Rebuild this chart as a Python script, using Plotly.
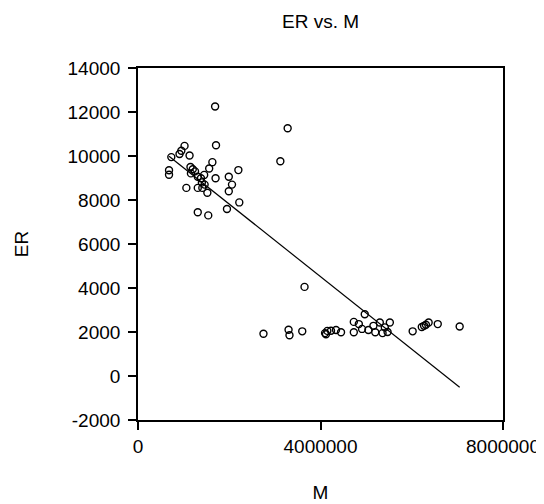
import plotly.graph_objects as go

M = [
    680000, 680000, 730000, 910000, 950000, 1020000, 1130000, 1150000, 1160000,
    1200000, 1250000, 1310000, 1380000, 1450000, 1460000, 1410000, 1400000,
    1560000, 1630000, 1700000, 1520000, 1060000, 1310000, 1990000, 2200000,
    2060000, 1990000, 2220000, 1950000, 1310000, 1540000, 1710000, 1690000,
    3120000, 3280000, 3650000,
    2750000, 3300000, 3320000, 3600000, 4100000, 4150000, 4120000, 4230000,
    4340000, 4450000, 4730000, 4730000, 4840000, 4910000, 4970000, 5050000,
    5160000, 5200000, 5300000, 5360000, 5410000, 5520000, 5470000, 6020000,
    6220000, 6270000, 6310000, 6370000, 6570000, 7050000,
]
ER = [
    9350, 9150, 9950, 10090, 10240, 10460, 10020, 9500, 9210,
    9400, 9300, 9060, 8990, 9140, 8700, 8550, 8800,
    9430, 9720, 8990, 8330, 8550, 8550, 9060, 9360,
    8700, 8400, 7890, 7590, 7440, 7300, 10490, 12250,
    9760, 11260, 4050,
    1920, 2100, 1850, 2030, 1950, 2050, 1900, 2060,
    2090, 1990, 2460, 1990, 2360, 2140, 2810, 2090,
    2280, 1990, 2430, 1950, 2210, 2430, 2000, 2030,
    2230, 2280, 2330, 2430, 2360, 2250,
]

# Fitted line (ER = intercept + slope * M)
fit_intercept = 11109
fit_slope = -0.001648

x_ticks = [0, 4000000, 8000000]
x_tick_labels = ["0", "4000000", "8000000"]
y_ticks = [-2000, 0, 2000, 4000, 6000, 8000, 10000, 12000, 14000]
y_tick_labels = ["-2000", "0", "2000", "4000", "6000", "8000", "10000", "12000", "14000"]

line_x = [min(M), max(M)]
line_y = [fit_intercept + fit_slope * v for v in line_x]

font_family = "Liberation Sans, Arial, sans-serif"

fig = go.Figure()
fig.add_trace(go.Scatter(
    x=line_x, y=line_y, mode="lines",
    line=dict(color="black", width=1.2),
    showlegend=False, hoverinfo="skip",
))
fig.add_trace(go.Scatter(
    x=M, y=ER, mode="markers",
    marker=dict(symbol="circle-open", size=7, color="black",
                line=dict(color="black", width=1.4)),
    showlegend=False,
))

axis_common = dict(
    showline=True, linecolor="black", linewidth=1.6, mirror=True,
    ticks="outside", ticklen=8, tickwidth=1.5, tickcolor="black",
    showgrid=False, zeroline=False,
    tickfont=dict(family=font_family, size=19, color="black"),
)

fig.update_layout(
    width=544, height=504,
    margin=dict(l=129, r=41, t=60, b=82),
    paper_bgcolor="white", plot_bgcolor="white",
    title=dict(text="ER vs. M", x=0.5, xanchor="center", xref="paper",
               y=1 - 13.5 / 504, yanchor="middle",
               font=dict(family=font_family, size=19, color="black")),
    xaxis=dict(range=[0, 8000000], tickvals=x_ticks, ticktext=x_tick_labels,
               title=dict(text="M", standoff=30,
                          font=dict(family=font_family, size=19, color="black")),
               **axis_common),
    yaxis=dict(range=[-2000, 14000], tickvals=y_ticks, ticktext=y_tick_labels,
               ticklabelstandoff=4,
               title=dict(text="ER", standoff=34,
                          font=dict(family=font_family, size=19, color="black")),
               **axis_common),
)

fig.write_html("out.html")
